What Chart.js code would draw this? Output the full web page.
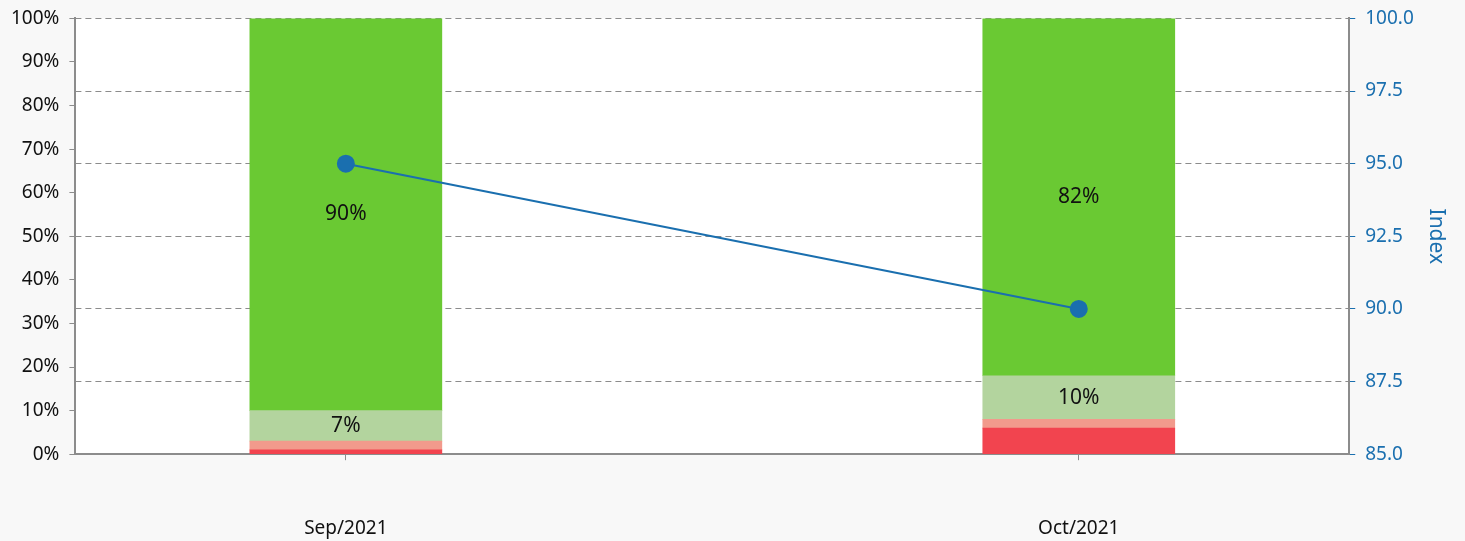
<!DOCTYPE html>
<html>
<head>
<meta charset="utf-8">
<script src="https://cdn.jsdelivr.net/npm/chart.js@4"></script>
<style>
  html, body { margin: 0; padding: 0; background: #f8f8f8; overflow: hidden; }
  /* pulled up a little so the plot top lines up with the original */
  #wrap { width: 1465px; height: 544px; margin-top: -3px; }
</style>
</head>
<body>
<div id="wrap"><canvas id="mixChart"></canvas></div>
<script>
const months = ['Sep/2021', 'Oct/2021'];
const redShare = [1, 6];
const salmonShare = [2, 2];
const lightGreenShare = [7, 10];
const greenShare = [90, 82];
const indexValues = [95.0, 90.0];

const blue = '#1a6faf';
const axisGray = '#8c8c8c';
const fontFamily = '"Noto Sans", sans-serif';

// bars sit on a linear x axis so the side margins can match the original
const toPoints = arr => arr.map((v, i) => ({ x: i, y: v }));

const areaBg = {
    id: 'areaBg',
    beforeDraw(chart) {
        const { ctx, chartArea: { left, top, width, height } } = chart;
        ctx.save();
        ctx.fillStyle = '#ffffff';
        ctx.fillRect(left, top, width, height);
        ctx.restore();
    }
};

// percent labels inside the two green segments
const segLabels = {
    id: 'segLabels',
    afterDatasetsDraw(chart) {
        const { ctx } = chart;
        ctx.save();
        ctx.font = '21px ' + fontFamily;
        ctx.fillStyle = '#111';
        ctx.textAlign = 'center';
        ctx.textBaseline = 'middle';
        [2, 3].forEach(di => {
            const meta = chart.getDatasetMeta(di);
            meta.data.forEach((bar, i) => {
                const v = chart.data.datasets[di].data[i].y;
                const mid = (bar.y + bar.base) / 2;
                ctx.fillText(v + '%', bar.x, mid);
            });
        });
        ctx.restore();
    }
};

const barBase = {
    type: 'bar',
    yAxisID: 'y',
    barThickness: 192,
    borderWidth: 0,
    order: 2
};

new Chart(document.getElementById('mixChart').getContext('2d'), {
    data: {
        datasets: [
            Object.assign({ label: 'red', data: toPoints(redShare), backgroundColor: '#f2444f' }, barBase),
            Object.assign({ label: 'salmon', data: toPoints(salmonShare), backgroundColor: '#f29a8c' }, barBase),
            Object.assign({ label: 'light green', data: toPoints(lightGreenShare), backgroundColor: '#b3d49e' }, barBase),
            Object.assign({ label: 'green', data: toPoints(greenShare), backgroundColor: '#6ac933' }, barBase),
            {
                type: 'line',
                label: 'Index',
                yAxisID: 'y1',
                data: toPoints(indexValues),
                borderColor: blue,
                backgroundColor: blue,
                pointBackgroundColor: blue,
                pointBorderColor: blue,
                pointRadius: 8,
                borderWidth: 2,
                order: 1
            }
        ]
    },
    options: {
        responsive: true,
        maintainAspectRatio: false,
        animation: false,
        layout: { padding: { top: 3, bottom: -56, left: 1, right: 0 } },
        plugins: {
            legend: { display: false },
            tooltip: { enabled: false }
        },
        scales: {
            x: {
                type: 'linear',
                stacked: true,
                offset: false,
                min: -0.369,
                max: 1.369,
                afterBuildTicks(scale) {
                    scale.ticks = months.map((_, i) => ({ value: i }));
                },
                border: { color: axisGray, width: 2 },
                grid: { offset: false, drawOnChartArea: false, color: axisGray, tickLength: 6 },
                ticks: {
                    padding: 57,
                    color: '#111',
                    font: { family: fontFamily, size: 19 },
                    maxRotation: 0,
                    callback: v => months[v] || ''
                }
            },
            y: {
                position: 'left',
                stacked: true,
                min: 0,
                max: 100,
                border: { color: axisGray, width: 2 },
                grid: { drawOnChartArea: false, color: axisGray, tickLength: 6 },
                ticks: {
                    stepSize: 10,
                    padding: 10,
                    color: '#111',
                    font: { family: fontFamily, size: 19 },
                    callback: v => v + '%'
                }
            },
            y1: {
                position: 'right',
                min: 85,
                max: 100,
                border: { color: axisGray, width: 2, dash: [6, 4] },
                grid: { color: axisGray, tickColor: blue, tickLength: 6 },
                title: {
                    display: true,
                    text: 'Index',
                    color: blue,
                    font: { family: fontFamily, size: 21 },
                    padding: { top: 16, bottom: 0 }
                },
                ticks: {
                    stepSize: 2.5,
                    padding: 10,
                    color: blue,
                    font: { family: fontFamily, size: 19 },
                    callback: v => Number(v).toFixed(1)
                }
            }
        }
    },
    plugins: [areaBg, segLabels]
});
</script>
</body>
</html>
